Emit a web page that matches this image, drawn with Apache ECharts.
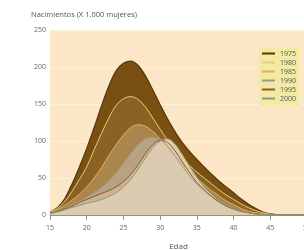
<!DOCTYPE html>
<html lang="es">
<head>
<meta charset="UTF-8">
<title>Nacimientos</title>
<style>
    body { margin: 0; padding: 0; background: #FFFFFF; overflow: hidden; }
    #main_chart { width: 304px; height: 250px; }
</style>
</head>
<body>
<div id="main_chart"></div>
<script src="https://cdn.jsdelivr.net/npm/echarts@6/dist/echarts.min.js"></script>
<script>
var ages = [15,16,17,18,19,20,21,22,23,24,25,26,27,28,29,30,31,32,33,34,35,36,37,38,39,40,41,42,43,44,45,46,47,48,49,50];

var y1975 = [4,10,22,42,65,90,118,147,174,195,205,208,202,188,169,149,130,113,98,86,75,65,55,46,38,30,22,15,9,4,1.5,0.5,0,0,0,0];
var y1980 = [4,9,18,32,48,65,88,110,131,148,157,160,156,146,131,116,101,88,77,67,58,50,42,34,27,21,15,10,6,3,1,0.3,0,0,0,0];
var y1985 = [3,7,13,20,28,38,50,64,80,95,108,118,122,120,113,103,92,80,69,59,50,41,33,26,19,14,9,5,3,1.5,0.5,0,0,0,0,0];
var y1990 = [2,5,9,14,19,24,30,37,46,57,70,83,95,103,105,102,93,80,66,53,42,33,25,18,13,9,5,3,1.5,0.7,0.3,0,0,0,0,0];
var y1995 = [2,5,8,12,17,21,25,29,33,38,45,55,68,83,95,101,98,87,72,57,44,34,25,18,12,8,5,3,1.5,0.6,0.2,0,0,0,0,0];
var y2000 = [2,4,7,10,13,16,18,21,25,30,38,48,62,77,91,100,103,96,82,66,51,38,28,20,14,9,5.5,3,1.5,0.7,0.3,0,0,0,0,0];

var years = ['1975', '1980', '1985', '1990', '1995', '2000'];
var values = [y1975, y1980, y1985, y1990, y1995, y2000];
var lineColors = ['#5a3606', '#e6cf7a', '#e3b060', '#9a9a88', '#8a5a2a', '#8c9a78'];
var fillColors = ['#7a4f12', '#8c6224', '#a8864e', '#b8a282', '#c8b494', '#dccbb0'];

var dom = document.getElementById('main_chart');

var series = years.map(function (yr, i) {
    return {
        name: yr,
        type: 'line',
        smooth: 0.35,
        showSymbol: false,
        color: lineColors[i],
        lineStyle: { width: i === 0 ? 1.2 : 1, color: lineColors[i] },
        areaStyle: { color: fillColors[i], opacity: 1 },
        data: ages.map(function (a, j) { return [a, values[i][j]]; })
    };
});

var option = {
    animation: false,
    title: {
        text: 'Nacimientos (X 1.000 mujeres)',
        left: 31,
        top: 11,
        padding: 0,
        textStyle: { fontSize: 7.5, fontWeight: 'normal', color: '#555', fontFamily: 'Open Sans' }
    },
    legend: {
        orient: 'vertical',
        right: 5,
        top: 47,
        icon: 'rect',
        itemWidth: 13,
        itemHeight: 2,
        itemGap: 2,
        padding: [3, 3, 3, 3],
        backgroundColor: '#f4e9a2',
        textStyle: { fontSize: 7, color: '#555', lineHeight: 7, fontFamily: 'Open Sans' },
        data: years
    },
    grid: {
        left: 50,
        right: -3,
        top: 30,
        bottom: 35,
        outerBoundsMode: 'none',
        containLabel: false,
        show: true,
        backgroundColor: '#fbe7c5',
        borderWidth: 0
    },
    xAxis: {
        type: 'value',
        min: 15,
        max: 50,
        interval: 5,
        name: 'Edad',
        nameLocation: 'middle',
        nameGap: 28,
        nameTextStyle: { fontSize: 8, color: '#555', fontFamily: 'Open Sans' },
        axisLine: { lineStyle: { color: '#8a9a8a', width: 1 } },
        axisTick: { show: true, length: 5, lineStyle: { color: '#8a9a8a' } },
        axisLabel: { fontSize: 7, color: '#666', margin: 9, fontFamily: 'Open Sans' },
        splitLine: { show: false }
    },
    yAxis: {
        type: 'value',
        min: 0,
        max: 250,
        interval: 50,
        axisLine: { show: false },
        axisTick: { show: false },
        axisLabel: { fontSize: 7, color: '#666', margin: 4, fontFamily: 'Open Sans' },
        splitLine: { lineStyle: { color: '#fdf1dc', width: 1 } }
    },
    series: series
};

var chart = echarts.init(dom);
chart.setOption(option);
</script>
</body>
</html>
